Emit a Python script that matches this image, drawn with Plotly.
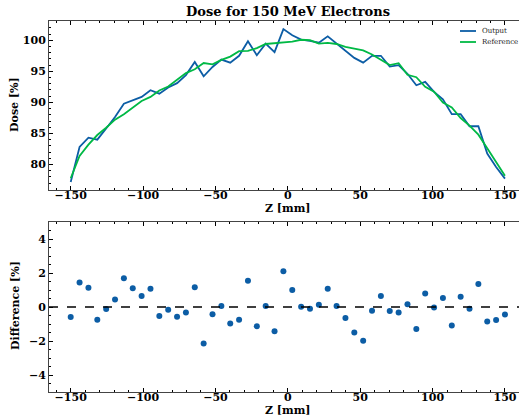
import numpy as np
import plotly.graph_objects as go
from plotly.subplots import make_subplots

z_mm = np.linspace(-150, 150, 50)

output_dose = [77.2, 82.83, 84.33, 84.0, 85.8, 87.66, 89.8, 90.34, 90.88, 91.95,
               91.4, 92.4, 93.1, 94.4, 96.5, 94.2, 95.7, 96.9, 96.4, 97.5,
               99.84, 97.6, 99.46, 98.1, 101.8, 100.8, 100.1, 99.9, 99.6, 100.64,
               99.46, 98.3, 97.16, 96.4, 97.5, 97.5, 95.76, 96.0, 94.6, 92.76,
               93.3, 91.7, 90.5, 88.1, 88.1, 86.16, 86.16, 81.76, 79.6, 77.74]

reference_dose = [77.79, 81.38, 83.20, 84.75, 85.92, 87.22, 88.10, 89.23, 90.23, 90.88,
                  91.93, 92.56, 93.67, 94.72, 95.33, 96.34, 96.12, 96.84, 97.37, 98.25,
                  98.30, 98.73, 99.40, 99.53, 99.70, 99.79, 100.08, 100.0, 99.46, 99.57,
                  99.40, 98.95, 98.66, 98.38, 97.72, 96.85, 96.0, 96.32, 94.44, 94.05,
                  92.51, 91.72, 89.97, 89.19, 87.49, 86.26, 84.81, 82.61, 80.37, 78.18]

difference = [-0.59, 1.45, 1.13, -0.75, -0.12, 0.44, 1.70, 1.11, 0.65, 1.07,
              -0.53, -0.16, -0.57, -0.32, 1.17, -2.14, -0.42, 0.06, -0.97, -0.75,
              1.54, -1.13, 0.06, -1.43, 2.10, 1.01, 0.02, -0.10, 0.14, 1.07,
              0.06, -0.65, -1.50, -1.98, -0.22, 0.65, -0.24, -0.32, 0.16, -1.29,
              0.79, -0.02, 0.53, -1.09, 0.61, -0.10, 1.35, -0.85, -0.77, -0.44]

series_names = ["Output", "Reference"]

BLUE = "#0C5DA5"
GREEN = "#00B945"
FONT = "DejaVu Serif"

fig = make_subplots(rows=2, cols=1)

fig.add_trace(go.Scatter(x=z_mm, y=output_dose, mode="lines", name=series_names[0],
                         showlegend=False, line=dict(color=BLUE, width=1.8)), row=1, col=1)
fig.add_trace(go.Scatter(x=z_mm, y=reference_dose, mode="lines", name=series_names[1],
                         showlegend=False, line=dict(color=GREEN, width=1.8)), row=1, col=1)
fig.add_trace(go.Scatter(x=z_mm, y=difference, mode="markers", showlegend=False,
                         marker=dict(color=BLUE, size=6)), row=2, col=1)
fig.add_trace(go.Scatter(x=[-165, 165], y=[0, 0], mode="lines", showlegend=False,
                         line=dict(color="black", width=1.6, dash="dash")), row=2, col=1)

tickfont = dict(family=FONT, size=11, color="black", weight="bold")
common = dict(showgrid=False, zeroline=False, showline=True, linecolor="#444", linewidth=1,
              ticks="inside", ticklen=4, tickwidth=1, tickcolor="black",
              tickfont=tickfont)

xr = [-165, 159.7]
fig.update_xaxes(range=xr, tick0=0, dtick=50, mirror="allticks", ticklabelstandoff=-5,
                 minor=dict(ticks="inside", ticklen=2, dtick=10, tick0=0, tickcolor="black"),
                 **common)
fig.update_yaxes(mirror=False, **common)
fig.update_yaxes(range=[75.97, 103.1], tick0=0, dtick=5,
                 minor=dict(ticks="inside", ticklen=2, dtick=1, tick0=0, tickcolor="black"),
                 row=1, col=1)
fig.update_yaxes(range=[-5, 5], tick0=0, dtick=2,
                 minor=dict(ticks="inside", ticklen=2, dtick=0.5, tick0=0, tickcolor="black"),
                 row=2, col=1)

W, H = 519, 419
ML, MT, MB = 49, 21, 27
PW, PH = W - ML, H - MT - MB


def px_x(x):
    return (x - ML) / PW


def px_y(y):
    return (H - MB - y) / PH


fig.update_layout(
    width=W, height=H,
    margin=dict(l=ML, r=0, t=MT, b=MB, autoexpand=False),
    plot_bgcolor="white", paper_bgcolor="white",
    font=dict(family=FONT, color="black"),
    yaxis=dict(domain=[0.5456, 1.0]),
    yaxis2=dict(domain=[0.0, 0.458]),
    showlegend=False,
)

# legend (upper right of top panel)
for name, col, yc in [(series_names[0], BLUE, 31), (series_names[1], GREEN, 42)]:
    fig.add_shape(type="line", xref="paper", yref="paper",
                  x0=px_x(460), x1=px_x(476), y0=px_y(yc), y1=px_y(yc),
                  line=dict(color=col, width=1.8))
    fig.add_annotation(text=name, xref="paper", yref="paper",
                       x=px_x(480), y=px_y(yc), xanchor="left", yanchor="middle",
                       showarrow=False, font=dict(family=FONT, size=7, color="#222"))

fig.add_annotation(text="Dose for 150 MeV Electrons", xref="paper", yref="paper",
                   x=px_x(288), y=px_y(12), xanchor="center", yanchor="middle",
                   showarrow=False, font=dict(family=FONT, size=13, weight="bold"))

for txt, yc in [("Dose [%]", 105), ("Difference [%]", 306)]:
    fig.add_annotation(text=txt, xref="paper", yref="paper",
                       x=px_x(15), y=px_y(yc),
                       textangle=-90, xanchor="center", yanchor="middle",
                       showarrow=False, font=dict(family=FONT, size=11, weight="bold"))

for yc in [209, 411]:
    fig.add_annotation(text="Z [mm]", xref="paper", yref="paper",
                       x=px_x(288), y=px_y(yc), xanchor="center", yanchor="middle",
                       showarrow=False, font=dict(family=FONT, size=11, weight="bold"))

fig.write_html("out.html")
